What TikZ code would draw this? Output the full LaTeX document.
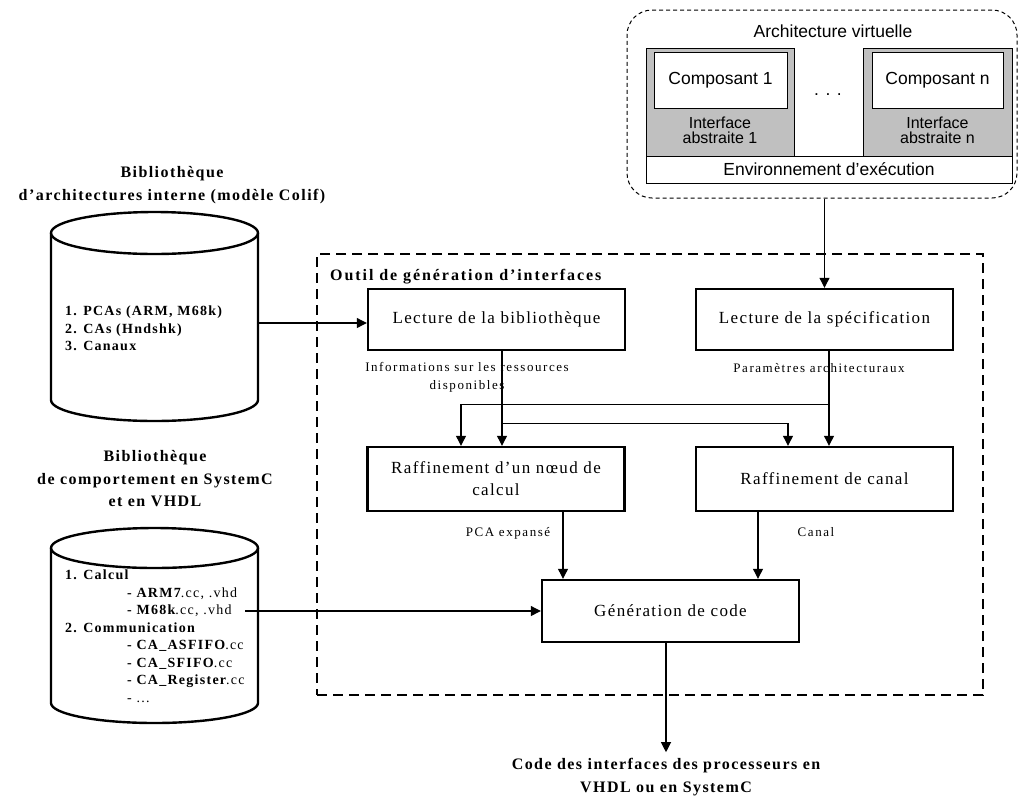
\documentclass[tikz,border=0pt]{standalone}
\usepackage{fontspec}
\setmainfont{Liberation Serif}
\newfontfamily\boxtxt[LetterSpace=8]{Liberation Serif}
\newfontfamily\lbltxt[LetterSpace=12]{Liberation Serif}
\newfontfamily\ttltxt[LetterSpace=9]{Liberation Serif}
\newfontfamily\outiltxt[LetterSpace=12]{Liberation Serif}
\newfontfamily\cyltxt[LetterSpace=9]{Liberation Serif}
\newfontfamily\arl{Liberation Sans}
\usetikzlibrary{arrows.meta}
\definecolor{silver}{HTML}{C0C0C0}
\begin{document}
\begin{tikzpicture}[x=1pt,y=-1pt,
  proc/.style={draw, line width=2.4pt, minimum width=257pt, minimum height=61pt,
    font=\boxtxt\fontsize{17}{22}\selectfont, align=center, inner sep=0pt},
  conn/.style={line width=1.1pt},
  arr/.style={conn, -{Triangle[length=10pt,width=10pt]}},
  lbl/.style={font=\lbltxt\fontsize{13}{18}\selectfont, align=center, inner sep=0pt},
  ttl/.style={font=\ttltxt\bfseries\fontsize{16}{22.5}\selectfont, align=center, inner sep=0pt},
  cylline/.style={line width=2.4pt},
  cyltext/.style={font=\cyltxt\bfseries\fontsize{14}{17.5}\selectfont, align=left, inner sep=0pt, anchor=north west},
  vsans/.style={font=\arl\fontsize{17.5}{20}\selectfont, inner sep=0pt},
  vsmall/.style={font=\arl\fontsize{16}{15}\selectfont, inner sep=0pt, align=center},
  graybox/.style={draw, line width=0.8pt, fill=silver},
  whitebox/.style={draw, line width=0.8pt, fill=white}
]
\useasboundingbox (0,0) rectangle (1020,796);

% ---------- virtual architecture ----------
\node[draw, dash pattern=on 4pt off 3pt, line width=1pt, rounded corners=25pt,
      minimum width=390pt, minimum height=188pt, inner sep=0pt] (virt) at (822,104) {};
\node[vsans] (virttitle) at (833,31) {Architecture virtuelle};
\node[graybox, minimum width=148pt, minimum height=108pt, inner sep=0pt] (ia1) at (720,102) {};
\node[whitebox, minimum width=133pt, minimum height=56pt, inner sep=0pt, vsans] (comp1) at (720.5,80) {Composant 1};
\node[vsmall] (ia1txt) at (720,130) {Interface\\abstraite 1};
\node[graybox, minimum width=149pt, minimum height=108pt, inner sep=0pt] (ian) at (937.5,102) {};
\node[whitebox, minimum width=131pt, minimum height=56pt, inner sep=0pt, vsans] (compn) at (937.5,80) {Composant n};
\node[vsmall] (iantxt) at (937.5,130) {Interface\\abstraite n};
\node[vsans] (dots) at (828,95) {. . .};
\node[whitebox, minimum width=366pt, minimum height=27pt, inner sep=0pt, vsans] (env) at (829,169.5) {Environnement d’exécution};

% ---------- tool frame ----------
\node[draw, line width=2.5pt, dash pattern=on 10pt off 6pt,
      minimum width=666pt, minimum height=441pt, inner sep=0pt] (tool) at (650,474.5) {};
\node[font=\outiltxt\bfseries\fontsize{16}{20}\selectfont, inner sep=0pt, anchor=west] (tooltitle) at (330,277) {Outil de génération d’interfaces};

% ---------- process boxes ----------
\node[proc] (bib) at (496.5,319.5) {Lecture de la bibliothèque};
\node[proc] (spec) at (824.5,319.5) {Lecture de la spécification};
\node[proc, minimum height=64pt] (noeud) at (496,479) {Raffinement d’un nœud de\\calcul};
\node[proc, minimum height=64pt] (canal) at (824.5,479) {Raffinement de canal};
\node[proc, minimum height=62pt] (gen) at (670.5,611) {Génération de code};

% ---------- labels ----------
\node[lbl] (info) at (467,377) {Informations sur les ressources\\disponibles};
\node[lbl] (param) at (819,368) {Paramètres architecturaux};
\node[lbl] (pca) at (508,533) {PCA expansé};
\node[lbl] (canallbl) at (816,532) {Canal};

% ---------- output ----------
\node[ttl] (out) at (666,777) {Code des interfaces des processeurs en\\VHDL ou en SystemC};

% ---------- cylinder A ----------
\draw[cylline, fill=white] (51,233) -- (51,400) arc[start angle=180, end angle=360, x radius=103.5pt, y radius=21pt] -- (258,233);
\draw[cylline] (154.5,233) ellipse[x radius=103.5pt, y radius=21pt];
\node[ttl] (cylAlbl) at (172,185) {Bibliothèque\\d’architectures interne (modèle Colif)};
\node[cyltext] (cylAtxt) at (65,306) {1. PCAs (ARM, M68k)\\2. CAs (Hndshk)\\3. Canaux};
\coordinate (cylAout) at (258,323);

% ---------- cylinder B ----------
\draw[cylline, fill=white] (51,548) -- (51,703) arc[start angle=180, end angle=360, x radius=103.5pt, y radius=20pt] -- (258,548);
\draw[cylline] (154.5,548) ellipse[x radius=103.5pt, y radius=20pt];
\node[ttl] (cylBlbl) at (155,479) {Bibliothèque\\de comportement en SystemC\\et en VHDL};
\node[cyltext] (cylBtxt) at (65,570) {1. Calcul\\
\hspace{62pt}- ARM7\textmd{.cc, .vhd}\\
\hspace{62pt}- M68k\textmd{.cc, .vhd}\\
2. Communication\\
\hspace{62pt}- CA\_ASFIFO\textmd{.cc}\\
\hspace{62pt}- CA\_SFIFO\textmd{.cc}\\
\hspace{62pt}- CA\_Register\textmd{.cc}\\
\hspace{62pt}\textmd{- ...}};
\coordinate (cylBout) at (245,611);

% ---------- connectors ----------
\draw[arr] (spec.north |- virt.south) -- (spec.north);
\draw[arr] (cylAout) -- (cylAout -| bib.west);
\draw[arr] (cylBout) -- (cylBout -| gen.west);

\coordinate (bibout) at ([xshift=5.5pt]bib.south);
\coordinate (specout) at ([xshift=4.5pt]spec.south);
\draw[arr] (bibout) -- (bibout |- noeud.north);
\draw[arr] (specout) -- (specout |- canal.north);
\draw[arr] (bibout) ++(0,72) -| ([xshift=-36.5pt]canal.north);
\draw[arr] (specout) ++(0,53) -| ([xshift=-35pt]noeud.north);

\coordinate (nx) at ([xshift=67pt]noeud.south);
\coordinate (cx) at ([xshift=-66.5pt]canal.south);
\draw[arr] (nx) -- (nx |- gen.north);
\draw[arr] (cx) -- (cx |- gen.north);

\coordinate (gx) at ([xshift=-4.5pt]gen.south);
\draw[arr] (gx) -- ([yshift=6pt]gx |- out.north);
\end{tikzpicture}
\end{document}
